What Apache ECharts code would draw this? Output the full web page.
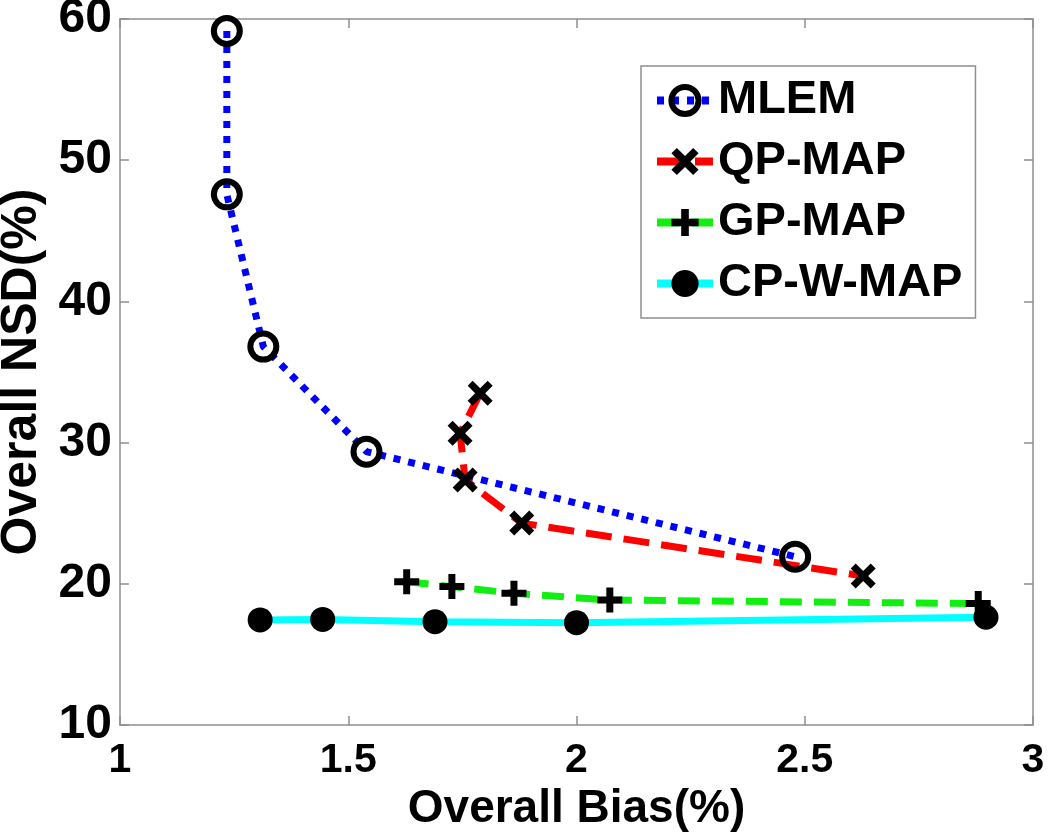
<!DOCTYPE html>
<html>
<head>
<meta charset="utf-8">
<script src="https://cdn.jsdelivr.net/npm/echarts@6/dist/echarts.min.js"></script>
<style>
  html, body { margin: 0; padding: 0; background: #fff; }
  #chart { width: 1050px; height: 840px; }
</style>
</head>
<body>
<div id="chart"></div>
<script>
// values (bias %, NSD %)
const seriesNames = ['MLEM', 'QP-MAP', 'GP-MAP', 'CP-W-MAP']
const mlemX = [1.234, 1.234, 1.314, 1.540, 2.479]
const mlemY = [59.15, 47.58, 36.8, 29.36, 21.92]
const qpX = [1.789, 1.745, 1.756, 1.880, 2.628]
const qpY = [33.5, 30.66, 27.35, 24.3, 20.55]
const gpX = [1.628, 1.727, 1.863, 2.073, 2.880]
const gpY = [20.15, 19.8, 19.33, 18.85, 18.6]
const cpX = [1.307, 1.444, 1.690, 2.000, 2.897]
const cpY = [17.44, 17.48, 17.32, 17.25, 17.63]

const xTicks = [1, 1.5, 2, 2.5, 3]
const yTicks = [10, 20, 30, 40, 50, 60]

const pairs = (xs, ys) => xs.map((x, i) => [x, ys[i]])

const crossPath = 'path://M2,0 L5,3 L8,0 L10,2 L7,5 L10,8 L8,10 L5,7 L2,10 L0,8 L3,5 L0,2 Z'
const plusPath = 'path://M3.6,0 H6.4 V3.6 H10 V6.4 H6.4 V10 H3.6 V6.4 H0 V3.6 H3.6 Z'

const font = 'Liberation Sans, Arial, sans-serif'
const gray = '#8f8f8f'

var myChart = echarts.init(document.getElementById('chart'))

const boxAxis = (pos) => ({
  position: pos,
  axisLine: { show: true, lineStyle: { color: gray, width: 1.5 } },
  axisTick: { show: true, inside: true, length: 9, lineStyle: { color: gray, width: 1.5 } },
  axisLabel: { show: false },
  splitLine: { show: false }
})

let option = {
  animation: false,
  backgroundColor: '#fff',
  grid: { left: 120, right: 17, top: 19, bottom: 115, outerBoundsMode: 'none', containLabel: false },
  xAxis: [
    {
      type: 'value', min: xTicks[0], max: xTicks[xTicks.length - 1], interval: 0.5,
      position: 'bottom',
      name: 'Overall Bias(%)', nameLocation: 'middle', nameGap: 51,
      nameTextStyle: { color: '#000', fontSize: 46, fontWeight: 'bold', fontFamily: font },
      axisLine: { show: true, lineStyle: { color: gray, width: 1.5 } },
      axisTick: { show: true, inside: true, length: 9, lineStyle: { color: gray, width: 1.5 } },
      axisLabel: { color: '#000', fontSize: 41, fontWeight: 'bold', fontFamily: font, margin: 15 },
      splitLine: { show: false }
    },
    Object.assign({ type: 'value', min: 1, max: 3, interval: 0.5 }, boxAxis('top'))
  ],
  yAxis: [
    {
      type: 'value', min: yTicks[0], max: yTicks[yTicks.length - 1], interval: 10,
      position: 'left',
      name: 'Overall NSD(%)', nameLocation: 'middle', nameGap: 73,
      nameTextStyle: { color: '#000', fontSize: 50, fontWeight: 'bold', fontFamily: font },
      axisLine: { show: true, lineStyle: { color: gray, width: 1.5 } },
      axisTick: { show: true, inside: true, length: 9, lineStyle: { color: gray, width: 1.5 } },
      axisLabel: { color: '#000', fontSize: 48, fontWeight: 'bold', fontFamily: font, margin: 8 },
      splitLine: { show: false }
    },
    Object.assign({ type: 'value', min: 10, max: 60, interval: 10 }, boxAxis('right'))
  ],
  legend: {
    orient: 'vertical',
    left: 641, top: 66,
    padding: [11, 13, 11, 12],
    itemWidth: 56, itemHeight: 34, itemGap: 14, itemTextGap: 22,
    backgroundColor: '#fff',
    borderColor: gray, borderWidth: 1.5,
    lineStyle: { width: 8 },
    itemStyle: { borderWidth: 'inherit' },
    textStyle: { color: '#000', fontSize: 47, fontWeight: 'bold', fontFamily: font, lineHeight: 46 },
    data: seriesNames
  },
  series: [
    {
      name: seriesNames[0], type: 'line', data: pairs(mlemX, mlemY),
      symbol: 'circle', symbolSize: 26,
      lineStyle: { color: '#0000ff', width: 7, type: [7, 8] },
      itemStyle: { color: 'rgba(255,255,255,0)', borderColor: '#000', borderWidth: 6 }
    },
    {
      name: seriesNames[1], type: 'line', data: pairs(qpX, qpY),
      symbol: crossPath, symbolSize: 25,
      lineStyle: { color: '#ff0000', width: 7, type: [26, 12] },
      itemStyle: { color: '#000' }
    },
    {
      name: seriesNames[2], type: 'line', data: pairs(gpX, gpY),
      symbol: plusPath, symbolSize: 25,
      lineStyle: { color: '#11ee11', width: 7, type: [22, 12] },
      itemStyle: { color: '#000' }
    },
    {
      name: seriesNames[3], type: 'line', data: pairs(cpX, cpY),
      symbol: 'circle', symbolSize: 25,
      lineStyle: { color: '#00ffff', width: 7 },
      itemStyle: { color: '#000' }
    }
  ]
}
myChart.setOption(option, true)
</script>
</body>
</html>
